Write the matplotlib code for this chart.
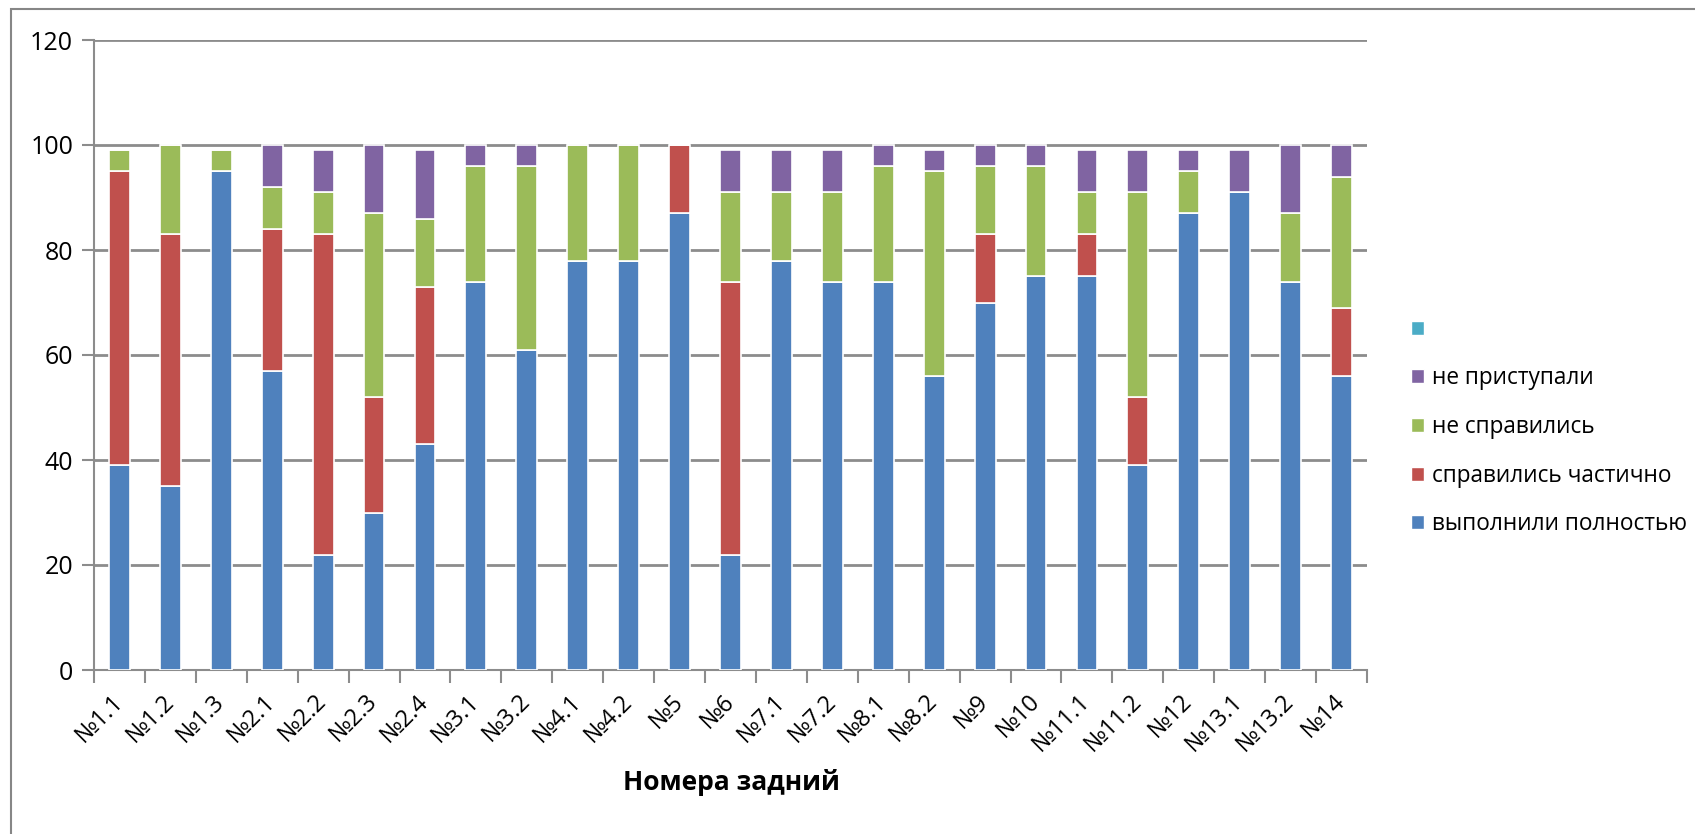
import matplotlib
matplotlib.use("Agg")
import matplotlib.pyplot as plt
from matplotlib.patches import Patch, Rectangle
import numpy as np

plt.rcParams['font.family'] = ['Open Sans', 'DejaVu Sans']

categories = ["№1.1", "№1.2", "№1.3", "№2.1", "№2.2", "№2.3", "№2.4", "№3.1", "№3.2",
              "№4.1", "№4.2", "№5", "№6", "№7.1", "№7.2", "№8.1", "№8.2", "№9", "№10",
              "№11.1", "№11.2", "№12", "№13.1", "№13.2", "№14"]
full = [39, 35, 95, 57, 22, 30, 43, 74, 61, 78, 78, 87, 22, 78, 74, 74, 56, 70, 75, 75, 39, 87, 91, 74, 56]
partial = [56, 48, 0, 27, 61, 22, 30, 0, 0, 0, 0, 13, 52, 0, 0, 0, 0, 13, 0, 8, 13, 0, 0, 0, 13]
failed = [4, 17, 4, 8, 8, 35, 13, 22, 35, 22, 22, 0, 17, 13, 17, 22, 39, 13, 21, 8, 39, 8, 0, 13, 25]
not_started = [0, 0, 0, 8, 8, 13, 13, 4, 4, 0, 0, 0, 8, 8, 8, 4, 4, 4, 4, 8, 8, 4, 8, 13, 6]

series_names = ["выполнили полностью", "справились частично", "не справились", "не приступали"]
colors = ["#4F81BD", "#C0504D", "#9BBB59", "#8064A2"]
extra_color = "#4BACC6"

W, H = 1695, 834
AXIS_ROW = 670          # pixel row of the x axis
LABEL_TOP_ROW = 696     # pixel row of the top of the rotated tick-label ink
LABEL_INK_H = 55        # vertical ink extent of a 5-char rotated label


def measure_rotated(text, fs):
    """Render a rotated label alone and return (ink height, ink top offset from anchor)."""
    f = plt.figure(figsize=(3, 3), dpi=100)
    f.patch.set_facecolor("white")
    f.text(0.5, 0.5, text, rotation=45, ha="right", va="center",
           rotation_mode="anchor", fontsize=fs)
    f.canvas.draw()
    img = np.asarray(f.canvas.buffer_rgba())[:, :, :3].astype(int)
    plt.close(f)
    rows = np.nonzero((img.max(axis=2) < 128).any(axis=1))[0]
    return rows.max() - rows.min(), rows.min() - 150


try:
    h20, _ = measure_rotated("№11.2", 20)
    tick_fs = 20.0 * LABEL_INK_H / h20
    _, dy_top = measure_rotated("№11.2", tick_fs)
    tick_pad = (LABEL_TOP_ROW - AXIS_ROW - dy_top) * 0.72
except Exception:
    tick_fs, tick_pad = 15.5, 22.0

fig = plt.figure(figsize=(W / 100, H / 100), dpi=100)
fig.patch.set_facecolor("white")

# outer chart border (clipped on right/bottom)
fig.add_artist(Rectangle((11 / W, -0.1), 1.2, (834 - 9) / H + 0.1, transform=fig.transFigure,
                         fill=False, edgecolor="#868686", linewidth=1.5))

ax = fig.add_axes([94 / W, (834 - AXIS_ROW) / H, (1367 - 94) / W, (AXIS_ROW - 40) / H])
x = np.arange(len(categories))
bottom = np.zeros(len(categories))
for vals, name, c in zip([full, partial, failed, not_started], series_names, colors):
    v = np.array(vals, dtype=float)
    ax.bar(x, v, width=0.41, bottom=bottom, color=c, edgecolor="white", linewidth=1.2,
           label=name, zorder=3)
    bottom += v

ax.set_xlim(-0.5, len(categories) - 0.5)
ax.set_ylim(0, 120)
ax.set_yticks(range(0, 121, 20))
ax.yaxis.grid(True, color="#8C8C8C", linewidth=2, zorder=0)
ax.set_axisbelow(True)
for s in ["top", "right"]:
    ax.spines[s].set_visible(False)
for s in ["left", "bottom"]:
    ax.spines[s].set_color("#8C8C8C")
    ax.spines[s].set_linewidth(1.5)

ax.set_xticks(x)
ax.set_xticklabels(categories, rotation=45, ha="right", va="center",
                   rotation_mode="anchor", fontsize=tick_fs)
ax.tick_params(axis="x", length=0, pad=tick_pad)
ax.set_xticks(np.arange(-0.5, len(categories), 1), minor=True)
ax.tick_params(axis="x", which="minor", length=9, width=1.5, color="#8C8C8C", direction="out")
ax.tick_params(axis="y", length=9, width=1.5, color="#8C8C8C", labelsize=18, pad=6)

fig.text(731 / W, 1 - 782 / H, "Номера задний", ha="center", va="center",
         fontsize=19, fontweight="bold")

handles = [Patch(facecolor=extra_color, edgecolor="white")]
labels = [""]
for name, c in list(zip(series_names, colors))[::-1]:
    handles.append(Patch(facecolor=c, edgecolor="white"))
    labels.append(name)
fig.legend(handles, labels, loc="upper left", bbox_to_anchor=(1400 / W, 1 - 306.5 / H),
           frameon=False, fontsize=16.3, handlelength=0.575, handleheight=0.575,
           handletextpad=0.35, labelspacing=1.087, borderpad=0)

fig.savefig("out.png", dpi=100)
